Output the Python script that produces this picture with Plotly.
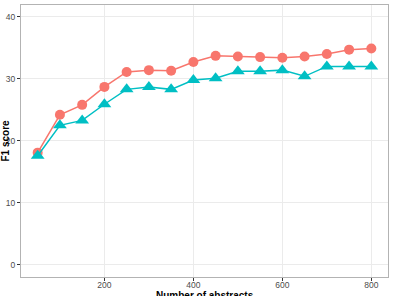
import plotly.graph_objects as go

n_abstracts = [50, 100, 150, 200, 250, 300, 350, 400, 450, 500, 550, 600, 650, 700, 750, 800]
f1_red = [18.1, 24.2, 25.8, 28.7, 31.1, 31.4, 31.3, 32.7, 33.7, 33.6, 33.5, 33.4, 33.6, 34.0, 34.7, 34.9]
f1_teal = [17.6, 22.5, 23.3, 25.9, 28.3, 28.7, 28.3, 29.8, 30.1, 31.2, 31.2, 31.4, 30.4, 32.0, 32.0, 32.0]

x_ticks = [200, 400, 600, 800]
y_ticks = [0, 10, 20, 30, 40]

fig = go.Figure()
fig.add_trace(go.Scatter(x=n_abstracts, y=f1_red, mode="lines+markers",
                         line=dict(color="#F8766D", width=1.5),
                         marker=dict(symbol="circle", size=10, color="#F8766D"),
                         showlegend=False))
fig.add_trace(go.Scatter(x=n_abstracts, y=f1_teal, mode="lines+markers",
                         line=dict(color="#00BFC4", width=1.5),
                         marker=dict(symbol="triangle-up", size=12, color="#00BFC4"),
                         showlegend=False))

axis_common = dict(showline=True, mirror=True, linecolor="#b3b3b3", linewidth=1,
                   showgrid=True, gridcolor="#ebebeb", gridwidth=1, zeroline=False,
                   ticks="outside", ticklen=3, tickcolor="#333333", tickwidth=1,
                   automargin=False,
                   tickfont=dict(size=8.5, color="#4d4d4d", family="Liberation Sans, Arial"))

fig.update_xaxes(range=[12.5, 837.5], tickvals=x_ticks, ticklabelstandoff=-3, **axis_common)
fig.update_yaxes(range=[-1.95, 41.9], tickvals=y_ticks, **axis_common)

title_font = dict(size=10, color="black", family="Liberation Sans, Arial")
fig.add_annotation(text="<b>Number of abstracts</b>", xref="paper", yref="paper",
                   x=0.5, y=0, xanchor="center", yanchor="top", yshift=-11,
                   showarrow=False, font=title_font)
fig.add_annotation(text="<b>F1 score</b>", xref="paper", yref="paper",
                   x=0, y=0.5, xanchor="center", yanchor="middle", xshift=-16.5,
                   textangle=-90, showarrow=False, font=title_font)

fig.update_layout(width=397, height=296, margin=dict(l=21, r=9, t=5, b=19),
                  plot_bgcolor="white", paper_bgcolor="white")

fig.write_html("out.html")
